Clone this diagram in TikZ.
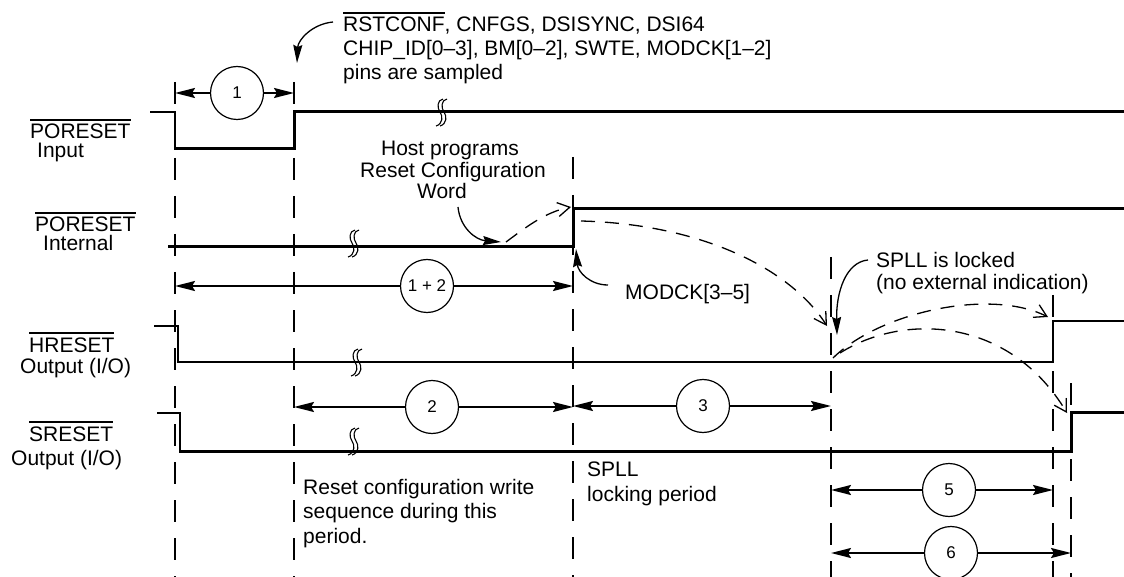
\documentclass[tikz,border=0pt]{standalone}
\usepackage{fontspec}
\setmainfont{Liberation Sans}
\usetikzlibrary{arrows.meta}
\newcommand\ovl[1]{\leavevmode\vbox{\hrule height 1.6pt\kern 3.8pt\hbox{#1}}}
\begin{document}
\begin{tikzpicture}[x=1pt,y=-1pt,
  every node/.style={inner sep=0pt},
  font=\fontsize{21pt}{24pt}\selectfont,
  lbl/.style={anchor=base west},
  ctr/.style={anchor=base},
  sig/.style={line width=3pt},
  thinsig/.style={line width=2pt},
  vdash/.style={line width=2pt, dash pattern=on 22pt off 16pt},
  dimarrow/.style={line width=2pt, -{Stealth[length=20pt,width=10pt,inset=3pt]}},
  num/.style={circle, draw, line width=1.2pt, minimum size=53pt, fill=white, font=\fontsize{17pt}{20pt}\selectfont},
  callout/.style={line width=1.3pt, -{Stealth[length=18pt,width=9pt,inset=2pt]}},
  dcall/.style={line width=1.3pt, dash pattern=on 14pt off 10pt, -{Straight Barb[length=12pt,width=14pt]}},
  brk/.pic={\draw[line width=1.1pt] (3,-13) .. controls (-3,-12) and (-3,-4) .. (0,0) .. controls (3,4) and (3,12) .. (-4,14);
            \draw[line width=1.1pt] (7,-13) .. controls (1,-12) and (1,-4) .. (4,0) .. controls (7,4) and (7,12) .. (0,14);}
]
\useasboundingbox (0,0) rectangle (1124,577);

% vertical dashed reference lines
\draw[vdash] (175,82) -- (175,577);
\draw[vdash] (294,82) -- (294,577);
\draw[vdash] (573,157) -- (573,577);
\draw[vdash] (831,257) -- (831,577);
\draw[vdash] (1053,295) -- (1053,577);
\draw[vdash] (1071,383) -- (1071,577);

% signals
\draw[thinsig] (150,112) -- (175,112) -- (175,149);
\draw[sig] (174,149) -- (294,149) -- (294,112) -- (1124,112);
\draw[sig] (168,247) -- (573,247) -- (573,209) -- (1124,209);
\draw[thinsig] (154,326) -- (178,326) -- (178,362) -- (1053,362) -- (1053,321) -- (1124,321);
\draw[thinsig] (157,413) -- (180,413) -- (180,451);
\draw[sig] (179,451) -- (1071,451) -- (1071,412) -- (1124,412);

% break marks
\pic at (440,112) {brk};
\pic at (352,243) {brk};
\pic at (355,362) {brk};
\pic at (352,441) {brk};

% left labels
\node[lbl] (l1a) at (30,139) {\ovl{PORESET}};
\node[lbl] (l1b) at (37,158) {Input};
\node[lbl] (l2a) at (35,232) {\ovl{PORESET}};
\node[lbl] (l2b) at (43,251) {Internal};
\node[lbl] (l3a) at (29,352) {\ovl{HRESET}};
\node[lbl] (l3b) at (20,373) {Output (I/O)};
\node[lbl] (l4a) at (29,441) {\ovl{SRESET}};
\node[lbl] (l4b) at (11,465) {Output (I/O)};

% dimension arrows
\coordinate (a1l) at (175,93);  \coordinate (a1r) at (294,93);
\node[num] (c1) at (237,93) {1};
\draw[dimarrow] (c1) -- (a1l); \draw[dimarrow] (c1) -- (a1r);

\coordinate (a12l) at (175,286); \coordinate (a12r) at (573,286);
\node[num] (c12) at (427,286) {1 + 2};
\draw[dimarrow] (c12) -- (a12l); \draw[dimarrow] (c12) -- (a12r);

\coordinate (a2l) at (294,407); \coordinate (a2r) at (573,407);
\node[num] (c2) at (432,407) {2};
\draw[dimarrow] (c2) -- (a2l); \draw[dimarrow] (c2) -- (a2r);

\coordinate (a3l) at (573,406); \coordinate (a3r) at (831,406);
\node[num] (c3) at (703,406) {3};
\draw[dimarrow] (c3) -- (a3l); \draw[dimarrow] (c3) -- (a3r);

\coordinate (a5l) at (831,490); \coordinate (a5r) at (1053,490);
\node[num] (c5) at (949,490) {5};
\draw[dimarrow] (c5) -- (a5l); \draw[dimarrow] (c5) -- (a5r);

\coordinate (a6l) at (831,553); \coordinate (a6r) at (1071,553);
\node[num] (c6) at (951,553) {6};
\draw[dimarrow] (c6) -- (a6l); \draw[dimarrow] (c6) -- (a6r);

% texts
\node[lbl] (tA) at (343,32) {\ovl{RSTCONF}, CNFGS, DSISYNC, DSI64};
\node[lbl] (tB) at (343,56) {CHIP\_ID[0–3], BM[0–2], SWTE, MODCK[1–2]};
\node[lbl] (tC) at (343,80) {pins are sampled};
\node[ctr] (hostA) at (450,156) {Host programs};
\node[ctr] (hostB) at (453,178) {Reset Configuration};
\node[ctr] (hostC) at (442,199) {Word};
\node[lbl] (modck) at (625,299) {MODCK[3–5]};
\node[lbl] (spllA) at (876,268) {SPLL is locked};
\node[lbl] (spllB) at (876,290) {(no external indication)};
\node[lbl] (rcA) at (303,494) {Reset configuration write};
\node[lbl] (rcB) at (303,518) {sequence during this};
\node[lbl] (rcC) at (303,543) {period.};
\node[lbl] (lpA) at (587,476) {SPLL};
\node[lbl] (lpB) at (587,501) {locking period};

% callouts
\coordinate (k1s) at (333,22);  \coordinate (k1e) at (297,63);
\draw[callout] (k1s) .. controls (312,24) and (298,40) .. (k1e);
\coordinate (k2s) at (458,207); \coordinate (k2e) at (501,242);
\draw[callout] (k2s) .. controls (460,228) and (476,240) .. (k2e);
\coordinate (k3s) at (506,242); \coordinate (k3e) at (571,207);
\draw[dcall] (k3s) .. controls (525,228) and (545,212) .. (k3e);
\coordinate (k4s) at (608,285); \coordinate (k4e) at (576,249);
\draw[callout] (k4s) .. controls (590,285) and (578,272) .. (k4e);
\coordinate (k5s) at (581,221); \coordinate (k5e) at (827,326);
\draw[dcall] (k5s) .. controls (700,224) and (790,268) .. (k5e);
\coordinate (k6s) at (868,260); \coordinate (k6e) at (837,335);
\draw[callout] (k6s) .. controls (846,262) and (836,292) .. (k6e);
\coordinate (k7s) at (833,358); \coordinate (k7e) at (1048,317);
\draw[dcall] (k7s) .. controls (880,312) and (990,288) .. (k7e);
\coordinate (k8s) at (840,353); \coordinate (k8e) at (1067,413);
\draw[dcall] (k8s) .. controls (905,312) and (1010,318) .. (k8e);
\end{tikzpicture}
\end{document}
